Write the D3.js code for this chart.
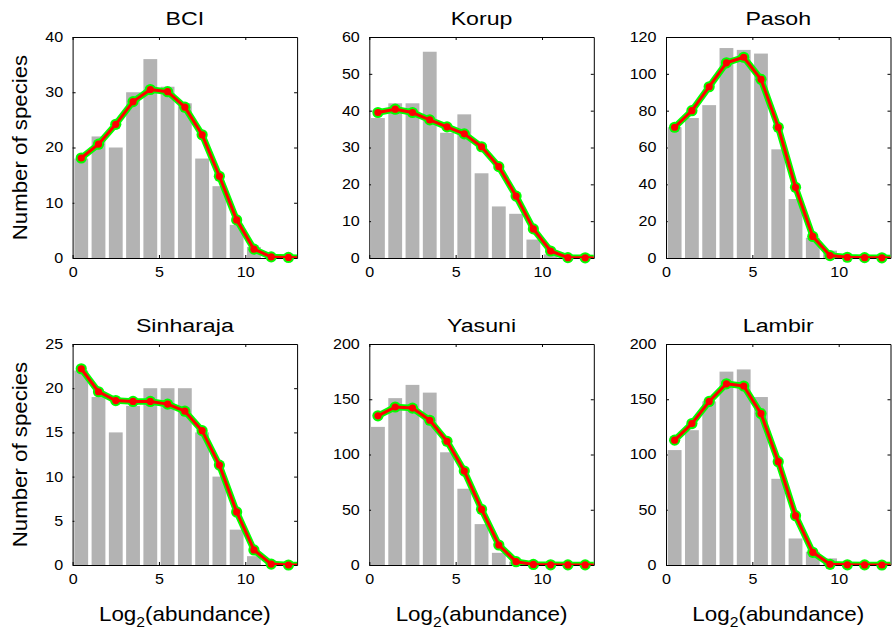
<!DOCTYPE html>
<html>
<head>
<meta charset="utf-8">
<script src="https://cdn.jsdelivr.net/npm/d3@7"></script>
<style>
  body { margin: 0; background: #fff; }
  text { font-family: "Liberation Sans", Arial, Helvetica, sans-serif; fill: #000; }
</style>
</head>
<body>
<script>
// site names and y axis ranges
var siteNames = ["BCI", "Korup", "Pasoh", "Sinharaja", "Yasuni", "Lambir"];
var yMaxes = [40, 60, 120, 25, 200, 200];
var yTickSteps = [10, 10, 20, 5, 50, 50];
var xTicks = [0, 5, 10];

// histogram counts per log2 abundance bin (bins centred at 0.5, 1.5, ...)
var barsBCI       = [18, 22, 20, 30, 36, 31, 28, 18, 13, 6, 2, 0, 0, 0];
var barsKorup     = [38, 42, 42, 56, 34, 39, 23, 14, 12, 5, 1, 0, 0, 0];
var barsPasoh     = [71, 76, 83, 114, 113, 111, 59, 32, 11, 4, 0, 0, 0, 0];
var barsSinharaja = [22, 19, 15, 18, 20, 20, 20, 15, 10, 4, 1, 0, 0, 0];
var barsYasuni    = [125, 151, 163, 156, 102, 69, 37, 11, 3, 0, 0, 0, 0, 0];
var barsLambir    = [104, 122, 148, 175, 177, 152, 78, 24, 12, 6, 0, 0, 0, 0];

// fitted curves
var fitBCI       = [18.1, 20.6, 24.2, 28.3, 30.5, 30.1, 27.3, 22.3, 14.8, 6.9, 1.6, 0.2, 0.1, 0];
var fitKorup     = [39.5, 40.4, 39.5, 37.5, 35.6, 33.7, 30.2, 24.8, 16.8, 7.9, 1.9, 0.1, 0.05, 0];
var fitPasoh     = [71, 80, 93, 106, 109, 97, 71, 38.4, 11.7, 1.3, 0.4, 0.2, 0.1, 0];
var fitSinharaja = [22.2, 19.6, 18.6, 18.5, 18.5, 18.2, 17.4, 15.2, 11.3, 6.0, 1.7, 0.1, 0, 0];
var fitYasuni    = [135, 143, 142, 131, 112, 85, 50.4, 18.1, 3, 0.5, 0.2, 0.1, 0.1, 0];
var fitLambir    = [113, 128, 148, 164, 162, 137, 93.5, 44.6, 11.5, 0.6, 0.2, 0.1, 0, 0];

var allBars = [barsBCI, barsKorup, barsPasoh, barsSinharaja, barsYasuni, barsLambir];
var allFits = [fitBCI, fitKorup, fitPasoh, fitSinharaja, fitYasuni, fitLambir];

var width = 893, height = 632;
var plotW = 224.5, plotH = 221;
var lefts = [72.6, 369.3, 666], tops = [37, 344];
var tickStretch = 1.15;

var svg = d3.select("body").append("svg")
  .attr("width", width).attr("height", height);

var x = d3.scaleLinear().domain([0, 13]).range([0, plotW]);

siteNames.forEach(function (name, k) {
  var col = k % 3, row = Math.floor(k / 3);
  var y = d3.scaleLinear().domain([0, yMaxes[k]]).range([plotH, 0]);
  var g = svg.append("g").attr("transform", "translate(" + lefts[col] + "," + tops[row] + ")");
  var yTicks = d3.range(0, yMaxes[k] + 0.001, yTickSteps[k]);

  g.append("defs").append("clipPath").attr("id", "clip" + k)
    .append("rect").attr("width", plotW).attr("height", plotH);

  // axes (box with inward ticks on all sides)
  var xb = g.append("g").attr("class", "axis").attr("transform", "translate(0," + plotH + ")")
    .call(d3.axisBottom(x).tickValues(xTicks).tickSize(-3).tickSizeOuter(0).tickPadding(9));
  g.append("g").attr("class", "axis")
    .call(d3.axisTop(x).tickValues(xTicks).tickSize(-3).tickSizeOuter(0).tickFormat(""));
  var yl = g.append("g").attr("class", "axis")
    .call(d3.axisLeft(y).tickValues(yTicks).tickSize(-3).tickSizeOuter(0).tickPadding(9));
  g.append("g").attr("class", "axis").attr("transform", "translate(" + plotW + ",0)")
    .call(d3.axisRight(y).tickValues(yTicks).tickSize(-3).tickSizeOuter(0).tickFormat(""));
  g.selectAll(".axis text").style("font-size", "14px")
    .style("font-family", "'Liberation Sans', Arial, sans-serif")
    .attr("transform", "scale(" + tickStretch + ",1)");
  yl.selectAll("text").attr("x", -9.5 / tickStretch);
  g.selectAll(".axis path, .axis line").attr("stroke", "#000").attr("stroke-width", 1);

  // bars
  g.selectAll("rect.bar").data(allBars[k]).enter().append("rect")
    .attr("class", "bar")
    .attr("x", function (d, i) { return x(i + 0.1); })
    .attr("width", x(0.8) - x(0))
    .attr("y", function (d) { return y(d); })
    .attr("height", function (d) { return plotH - y(d); })
    .attr("fill", "#b3b3b3");

  // fitted curve: green halo under red line
  var pts = allFits[k].map(function (v, i) { return [i + 0.5, v]; });
  var line = d3.line().x(function (d) { return x(d[0]); }).y(function (d) { return y(d[1]); });
  var shown = pts.filter(function (d) { return d[0] < 13; });

  g.append("path").datum(pts).attr("d", line).attr("clip-path", "url(#clip" + k + ")")
    .attr("fill", "none").attr("stroke", "#00ff00").attr("stroke-width", 6.5)
    .attr("stroke-linejoin", "round");
  g.selectAll("circle.halo").data(shown).enter().append("circle")
    .attr("class", "halo")
    .attr("cx", function (d) { return x(d[0]); })
    .attr("cy", function (d) { return y(d[1]); })
    .attr("r", 5.6).attr("fill", "#00ff00");
  g.append("path").datum(pts).attr("d", line).attr("clip-path", "url(#clip" + k + ")")
    .attr("fill", "none").attr("stroke", "#ff0000").attr("stroke-width", 3)
    .attr("stroke-linejoin", "round");
  g.selectAll("circle.dot").data(shown).enter().append("circle")
    .attr("class", "dot")
    .attr("cx", function (d) { return x(d[0]); })
    .attr("cy", function (d) { return y(d[1]); })
    .attr("r", 3.6).attr("fill", "#ff0000");

  // title
  g.append("text")
    .attr("transform", "translate(" + plotW / 2 + ",-12) scale(1.22,1)")
    .attr("text-anchor", "middle").style("font-size", "19px").text(name);

  if (col === 0) {
    g.append("text")
      .attr("transform", "translate(-46," + plotH / 2 + ") rotate(-90) scale(1.06,1)")
      .attr("text-anchor", "middle").style("font-size", "21px")
      .text("Number of species");
  }
  if (row === 1) {
    var xl = g.append("text")
      .attr("transform", "translate(" + plotW / 2 + "," + (plotH + 56) + ") scale(1.12,1)")
      .attr("text-anchor", "middle").style("font-size", "20px");
    xl.append("tspan").text("Log");
    xl.append("tspan").attr("dy", 6).style("font-size", "14px").text("2");
    xl.append("tspan").attr("dy", -6).text("(abundance)");
  }
});
</script>
</body>
</html>
